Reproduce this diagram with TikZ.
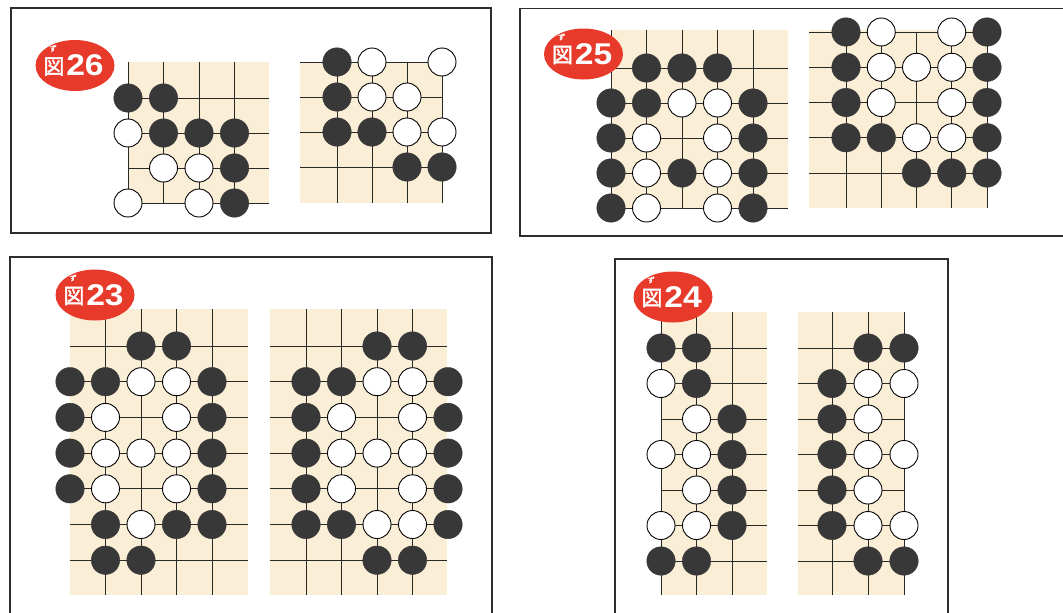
\documentclass[tikz,border=0pt]{standalone}
\usepackage{fontspec}
\usepackage{graphicx}
\usetikzlibrary{shapes.geometric}
\newfontfamily\cjkfont[FakeBold=2]{Noto Sans CJK JP}
\newfontfamily\lblfont{Liberation Sans}
\definecolor{wood}{RGB}{251,238,214}
\definecolor{stoneb}{RGB}{55,56,55}
\definecolor{lblred}{RGB}{231,58,42}
\definecolor{framec}{RGB}{45,45,45}
\definecolor{gridc}{RGB}{40,40,40}
\tikzset{
  gline/.style={draw=gridc, line width=0.8pt},
  bst/.style={circle, fill=stoneb, draw=stoneb, inner sep=0pt, minimum size=28.5pt},
  wst/.style={circle, fill=white, draw=black, line width=0.9pt, inner sep=0pt, minimum size=28pt},
  frame/.style={draw=framec, line width=1.6pt},
  lbl/.style={ellipse, fill=lblred, inner sep=0pt, minimum width=79pt, minimum height=51pt},
  lblk/.style={text=white, font=\cjkfont\fontsize{21}{21}\selectfont, inner sep=0pt},
  lbln/.style={text=white, font=\lblfont\bfseries\fontsize{30}{30}\selectfont, inner sep=0pt},
  lblf/.style={text=white, font=\cjkfont\fontsize{7.5}{7.5}\selectfont, inner sep=0pt},
}
\newcommand\goboard[7]{%
  \foreach \i/\j in {#6} \node[bst] (#1-\i-\j) at ({#2+\i*#3},{#4+\j*#5}) {};
  \foreach \i/\j in {#7} \node[wst] (#1-\i-\j) at ({#2+\i*#3},{#4+\j*#5}) {};
}
\newcommand\figlabel[3]{%
  \node[lbl] (#1) at (#2) {};
  \node[lblk] (#1k) at ([xshift=-21pt,yshift=-1pt]#1.center) {図};
  \node[lbln] (#1n) at ([xshift=10pt]#1.center) {\scalebox{1.12}[1]{#3}};
  \node[lblf] (#1f) at ([xshift=-22pt,yshift=17pt]#1.center) {ず};
}
\begin{document}
\begin{tikzpicture}[x=1pt,y=-1pt]
\useasboundingbox (0,0) rectangle (1063,613);
\fill[white] (0,0) rectangle (1063,613);
% frames
\draw[frame] (11,8) rectangle (491,233);
\draw[frame] (1063,8.5) -- (520,8.5) -- (520,236) -- (1063,236);
\draw[frame] (10,613) -- (10,257) -- (492,257) -- (492,613);
\draw[frame] (615,613) -- (615,259) -- (948,259) -- (948,613);

% ---- Fig 26 left
\fill[wood] (128,62) rectangle (269,203);
\foreach \i in {0,...,3} \draw[gline] ({128+\i*35.5},62) -- ({128+\i*35.5},203);
\foreach \j in {0,...,3} \draw[gline] (128,{98+\j*35}) -- (269,{98+\j*35});
\goboard{a}{128}{35.5}{98}{35}{0/0,1/0,1/1,2/1,3/1,3/2,3/3}{0/1,1/2,2/2,0/3,2/3}
% ---- Fig 26 right
\fill[wood] (300,62) rectangle (443,203);
\foreach \i in {0,...,3} \draw[gline] ({337+\i*35},62) -- ({337+\i*35},203);
\foreach \j in {0,...,3} \draw[gline] (300,{62+\j*35}) -- (442,{62+\j*35});
\goboard{b}{337}{35}{62}{35}{0/0,0/1,0/2,1/2,2/3,3/3}{1/0,3/0,1/1,2/1,2/2,3/2}

% ---- Fig 25 left
\fill[wood] (611,30) rectangle (788,209);
\foreach \i in {0,...,4} \draw[gline] ({611+\i*35.5},30) -- ({611+\i*35.5},208);
\foreach \j in {0,...,4} \draw[gline] (611,{68+\j*35}) -- (788,{68+\j*35});
\goboard{c}{611}{35.5}{68}{35}{1/0,2/0,3/0,0/1,1/1,4/1,0/2,4/2,0/3,2/3,4/3,0/4,4/4}{2/1,3/1,1/2,3/2,1/3,3/3,1/4,3/4}
% ---- Fig 25 right
\fill[wood] (809,30) rectangle (988,208);
\foreach \i in {0,...,4} \draw[gline] ({846+\i*35.25},32) -- ({846+\i*35.25},208);
\foreach \j in {0,...,4} \draw[gline] (809,{32+\j*35.25}) -- (987,{32+\j*35.25});
\goboard{d}{846}{35.25}{32}{35.25}{0/0,4/0,0/1,4/1,0/2,4/2,0/3,1/3,4/3,2/4,3/4,4/4}{1/0,3/0,1/1,2/1,3/1,1/2,3/2,2/3,3/3}

% ---- Fig 23 left
\fill[wood] (70,309) rectangle (248,595);
\foreach \i in {1,...,4} \draw[gline] ({70+\i*35.5},309) -- ({70+\i*35.5},595);
\foreach \j in {0,...,6} \draw[gline] (70,{346+\j*35.7}) -- (248,{346+\j*35.7});
\goboard{e}{70}{35.5}{346}{35.7}{2/0,3/0,0/1,1/1,4/1,0/2,4/2,0/3,4/3,0/4,4/4,1/5,3/5,4/5,1/6,2/6}{2/1,3/1,1/2,3/2,1/3,2/3,3/3,1/4,3/4,2/5}
% ---- Fig 23 right
\fill[wood] (270,309) rectangle (447,595);
\foreach \i in {0,...,3} \draw[gline] ({306+\i*35.5},309) -- ({306+\i*35.5},595);
\foreach \j in {0,...,6} \draw[gline] (270,{346+\j*35.7}) -- (447,{346+\j*35.7});
\goboard{f}{306}{35.5}{346}{35.7}{2/0,3/0,0/1,1/1,4/1,0/2,4/2,0/3,4/3,0/4,4/4,0/5,1/5,4/5,2/6,3/6}{2/1,3/1,1/2,3/2,1/3,2/3,3/3,1/4,3/4,2/5,3/5}

% ---- Fig 24 left
\fill[wood] (661,312) rectangle (767,595);
\foreach \i in {0,...,2} \draw[gline] ({661+\i*35.5},312) -- ({661+\i*35.5},595);
\foreach \j in {0,...,6} \draw[gline] (661,{348+\j*35.5}) -- (767,{348+\j*35.5});
\goboard{g}{661}{35.5}{348}{35.5}{0/0,1/0,1/1,2/2,2/3,2/4,2/5,0/6,1/6}{0/1,1/2,0/3,1/3,1/4,0/5,1/5}
% ---- Fig 24 right
\fill[wood] (798,312) rectangle (905,595);
\foreach \i in {0,...,2} \draw[gline] ({832+\i*36},312) -- ({832+\i*36},595);
\foreach \j in {0,...,6} \draw[gline] (798,{348+\j*35.5}) -- (904,{348+\j*35.5});
\goboard{h}{832}{36}{348}{35.5}{1/0,2/0,0/1,0/2,0/3,0/4,0/5,1/6,2/6}{1/1,2/1,1/2,1/3,2/3,1/4,1/5,2/5}

% labels
\figlabel{L26}{75,65.5}{26}
\figlabel{L25}{583.5,54}{25}
\figlabel{L23}{95,295}{23}
\figlabel{L24}{673,297}{24}
\end{tikzpicture}
\end{document}
